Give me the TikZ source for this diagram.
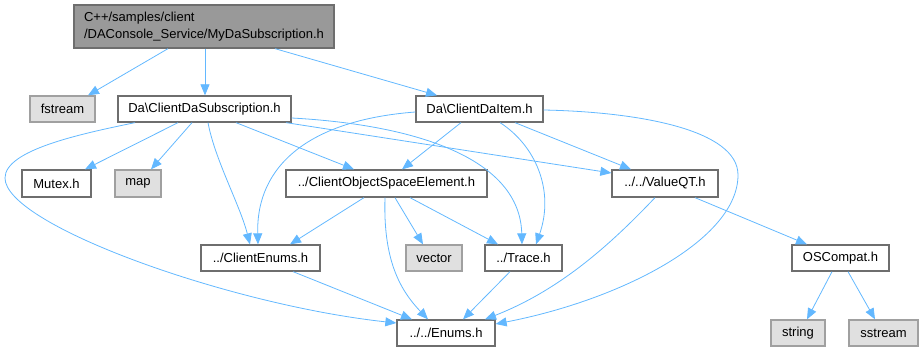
\documentclass[tikz,border=0pt]{standalone}
\usepackage{fontspec}
\setmainfont{Liberation Sans}
\usetikzlibrary{arrows.meta,calc}
\definecolor{edgeblue}{HTML}{63B8FF}
\definecolor{boxline}{HTML}{6E6E6E}
\definecolor{sysfill}{HTML}{E0E0E0}
\definecolor{sysline}{HTML}{A0A0A0}
\definecolor{rootfill}{HTML}{999999}

\begin{document}
\begin{tikzpicture}[x=1pt,y=-1pt,
  box/.style={draw=boxline,line width=1.3pt,fill=white,minimum height=26pt,
    inner sep=0pt,font=\fontsize{13}{16.5}\selectfont,text=black},
  sysbox/.style={box,draw=sysline,fill=sysfill},
  rootbox/.style={box,fill=rootfill,align=left,minimum height=43pt},
  dep/.style={draw=edgeblue,line width=0.8pt,-{Triangle[length=11pt,width=9pt]}}
]
\useasboundingbox (0,0) rectangle (923,352);

% include graph nodes
\node[rootbox,minimum width=260pt] (root) at (204,26.5)
  {C++/samples/client\\/DAConsole\_Service/MyDaSubscription.h};
\node[sysbox,minimum width=65pt]  (fstream) at (62.5,109) {fstream};
\node[box,minimum width=173pt]    (dasub)   at (204.5,109) {Da\textbackslash ClientDaSubscription.h};
\node[box,minimum width=127pt]    (daitem)  at (479.5,109) {Da\textbackslash ClientDaItem.h};
\node[box,minimum width=69pt,minimum height=27pt] (mutex) at (56.5,183.5) {Mutex.h};
\node[sysbox,minimum width=46pt,minimum height=27pt] (map) at (138,183.5) {map};
\node[box,minimum width=201pt,minimum height=27pt] (cose) at (386.5,183.5) {../ClientObjectSpaceElement.h};
\node[box,minimum width=106pt,minimum height=27pt] (valueqt) at (665,183.5) {../../ValueQT.h};
\node[box,minimum width=119pt]    (cenums)  at (260.5,258) {../ClientEnums.h};
\node[sysbox,minimum width=56pt]  (vector)  at (434,258) {vector};
\node[box,minimum width=77pt]     (trace)   at (523.5,258) {../Trace.h};
\node[box,minimum width=97pt]     (oscompat) at (840.5,258) {OSCompat.h};
\node[box,minimum width=98pt]     (enums)   at (446,333) {../../Enums.h};
\node[sysbox,minimum width=54pt]  (string)  at (798,333) {string};
\node[sysbox,minimum width=69pt]  (sstream) at (883.5,333) {sstream};

% dependencies of the top file
\draw[dep] ($(root.south)+(-36,0)$) -- ($(fstream.north)+(25.5,0)$);
\draw[dep] ($(root.south)+(1,0)$) -- ($(dasub.north)+(0.5,0)$);
\draw[dep] ($(root.south)+(71,0)$) -- ($(daitem.north)+(-42.5,0)$);

% Da\ClientDaSubscription.h
\draw[dep] ($(dasub.south)+(-26.5,0)$) -- ($(mutex.north)+(28.5,0)$);
\draw[dep] ($(dasub.south)+(-12.5,0)$) -- ($(map.north)+(13,0)$);
\draw[dep] ($(dasub.south)+(-69.5,0)$) .. controls (80,134) and (5,150) .. (5,178)
  .. controls (5,225) and (230,305) .. ($(enums.west)+(0,-10)$);
\draw[dep] ($(dasub.south)+(3.5,0)$) .. controls (215,160) and (240,205) .. ($(cenums.north)+(-10.5,0)$);
\draw[dep] ($(dasub.south)+(31.5,0)$) -- ($(cose.north)+(-32.5,0)$);
\draw[dep] ($(dasub.south)+(81.5,0)$) -- ($(valueqt.west)+(0,-10.5)$);
\draw[dep] ($(dasub.east)+(0,9)$) .. controls (420,125) and (520,160) .. ($(trace.north)+(-1.5,0)$);

% Da\ClientDaItem.h
\draw[dep] ($(daitem.west)+(0,3)$) .. controls (310,120) and (256,165) .. ($(cenums.north)+(-2.5,0)$);
\draw[dep] ($(daitem.south)+(-18.5,0)$) -- ($(cose.north)+(15.5,0)$);
\draw[dep] ($(daitem.south)+(20.5,0)$) .. controls (535,145) and (555,190) .. ($(trace.north)+(12.5,0)$);
\draw[dep] ($(daitem.south)+(35.5,0)$) -- ($(valueqt.north)+(-34,0)$);
\draw[dep] ($(daitem.east)+(0,1)$) .. controls (640,112) and (738,130) .. (738,175)
  .. controls (738,240) and (620,300) .. ($(enums.east)+(0,-9)$);

% ../ClientObjectSpaceElement.h
\draw[dep] ($(cose.south)+(-22.5,0)$) -- ($(cenums.north)+(29.5,0)$);
\draw[dep] ($(cose.south)+(8.5,0)$) -- ($(vector.north)+(-11,0)$);
\draw[dep] ($(cose.south)+(23.5,0)$) -- ($(trace.north)+(-25.5,0)$);
\draw[dep] ($(cose.south)+(-1.5,0)$) .. controls (383,260) and (400,290) .. ($(enums.north)+(-18,0)$);

% ../../ValueQT.h
\draw[dep] ($(valueqt.south)+(-10,0)$) .. controls (610,245) and (560,290) .. ($(enums.north)+(39,0)$);
\draw[dep] ($(valueqt.south)+(30,0)$) -- ($(oscompat.north)+(-33.5,0)$);

% lower level headers
\draw[dep] ($(cenums.south)+(32.5,0)$) -- ($(enums.north)+(-34,0)$);
\draw[dep] ($(trace.south)+(-13.5,0)$) -- ($(enums.north)+(17,0)$);
\draw[dep] ($(oscompat.south)+(-8.5,0)$) -- ($(string.north)+(9,0)$);
\draw[dep] ($(oscompat.south)+(7.5,0)$) -- ($(sstream.north)+(-8.5,0)$);
\end{tikzpicture}
\end{document}
